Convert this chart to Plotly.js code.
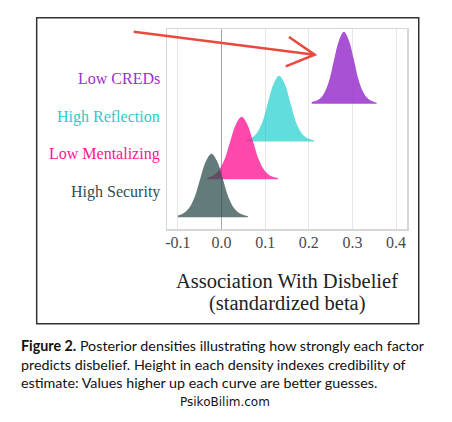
<!DOCTYPE html>
<html>
<head>
<meta charset="utf-8">
<script src="https://cdn.plot.ly/plotly-3.0.1.min.js"></script>
<style>
  html, body { margin: 0; padding: 0; background: #ffffff; }
  #chart { width: 452px; height: 422px; }
</style>
</head>
<body>
<div id="chart"></div>
<script>
// Factor names, bottom ridge first
const factors = ['High Security', 'Low Mentalizing', 'High Reflection', 'Low CREDs'];

// Posterior density of each standardized beta (x = beta, d = density)
const securityX = [-0.100, -0.0873, -0.0744, -0.0616, -0.0487, -0.0359, -0.023, -0.0101, 0.0027, 0.0156, 0.0284, 0.0413, 0.0541, 0.0602];
const securityD = [0.4, 0.97, 2.26, 4.96, 9.47, 13.67, 15.5, 13.67, 9.47, 4.96, 2.26, 0.97, 0.43, 0.3];

const mentalizingX = [-0.0327, -0.019, -0.006, 0.007, 0.020, 0.033, 0.046, 0.059, 0.072, 0.085, 0.098, 0.111, 0.124, 0.1297];
const mentalizingD = [0.4, 0.96, 2.23, 4.9, 9.35, 13.5, 15.3, 13.5, 9.35, 4.9, 2.23, 0.96, 0.43, 0.3];

const reflectionX = [0.0565, 0.070, 0.0824, 0.0948, 0.1072, 0.1196, 0.132, 0.1444, 0.1568, 0.1692, 0.1816, 0.194, 0.2064, 0.2128];
const reflectionD = [0.4, 1.0, 2.35, 5.15, 9.84, 14.2, 16.1, 14.2, 9.84, 5.15, 2.35, 1.0, 0.45, 0.27];

const credsX = [0.2066, 0.2237, 0.2351, 0.2465, 0.2578, 0.2692, 0.2805, 0.2918, 0.3032, 0.3146, 0.3259, 0.3373, 0.3485, 0.3554];
const credsD = [0.4, 1.1, 2.57, 5.6, 10.75, 15.5, 17.6, 15.5, 10.75, 5.6, 2.57, 1.1, 0.49, 0.3];

// x-axis ticks
const tickVals = [-0.1, 0.0, 0.1, 0.2, 0.3, 0.4];
const tickText = ['-0.1', '0.0', '0.1', '0.2', '0.3', '0.4'];

// Ridge styling
const lineColors = ['#2f4f4f', '#ff1493', '#2ccbcb', '#9932cc'];
const fillColors = ['rgba(47,79,79,0.75)', 'rgba(255,20,147,0.78)', 'rgba(0,200,200,0.62)', 'rgba(153,50,204,0.85)'];

const ridges = [
  { x: securityX, d: securityD },
  { x: mentalizingX, d: mentalizingD },
  { x: reflectionX, d: reflectionD },
  { x: credsX, d: credsD }
];

const heightScale = 0.108;   // density -> ridge height (one ridge step = 1)
const labelLift = 0.66;      // label sits above its ridge baseline

const traces = [];
// draw top ridge first so lower ridges overlap it
for (let i = ridges.length - 1; i >= 0; i--) {
  const r = ridges[i];
  const xs = r.x;
  traces.push({
    type: 'scatter', mode: 'lines',
    x: [xs[0], xs[xs.length - 1]], y: [i, i],
    line: { width: 0, color: fillColors[i] },
    hoverinfo: 'skip', showlegend: false
  });
  traces.push({
    type: 'scatter', mode: 'lines',
    x: xs, y: r.d.map(v => i + v * heightScale),
    fill: 'tonexty', fillcolor: fillColors[i],
    line: { width: 0, shape: 'spline', smoothing: 1, color: fillColors[i] },
    name: factors[i], showlegend: false
  });
}

const serif = 'Liberation Serif, Times New Roman, serif';

const annotations = factors.map((f, i) => ({
  xref: 'paper', yref: 'y', x: -0.021, y: i + labelLift,
  xanchor: 'right', yanchor: 'middle', showarrow: false,
  text: f, font: { family: serif, size: 16, color: lineColors[i] }
}));

// axis title, two lines
annotations.push({
  xref: 'paper', yref: 'paper', x: 0.5, y: -0.262,
  xanchor: 'center', yanchor: 'middle', showarrow: false,
  text: 'Association With Disbelief',
  font: { family: serif, size: 20.5, color: '#222222' }
});
annotations.push({
  xref: 'paper', yref: 'paper', x: 0.5, y: -0.3735,
  xanchor: 'center', yanchor: 'middle', showarrow: false,
  text: '(standardized beta)',
  font: { family: serif, size: 20.5, color: '#222222' }
});

annotations.push({
  xref: 'paper', yref: 'paper', x: -0.6167, y: -0.676,
  xanchor: 'left', yanchor: 'middle', align: 'left', showarrow: false,
  text: '<b>Figure 2.</b> Posterior densities illustrating how strongly each factor<br>predicts disbelief. Height in each density indexes credibility of<br>estimate: Values higher up each curve are better guesses.',
  font: { family: 'Lato, Open Sans, sans-serif', size: 14.3, color: '#111111' }
});

annotations.push({
  xref: 'paper', yref: 'paper', x: 0.2417, y: -0.865,
  xanchor: 'center', yanchor: 'middle', showarrow: false,
  text: 'PsikoBilim.com',
  font: { family: 'DejaVu Sans, sans-serif', size: 12, color: '#111111' }
});

const shapes = [
  // figure frame
  { type: 'rect', xref: 'paper', yref: 'paper', x0: -0.543, x1: 1.049, y0: -0.4735, y1: 1.0565,
    line: { color: '#333333', width: 1.5 }, fillcolor: 'rgba(0,0,0,0)', layer: 'below' },
  // pointer arrow
  { type: 'path', xref: 'paper', yref: 'paper',
    path: 'M -0.1388 0.9865 L 0.6154 0.8715 M 0.5083 0.96 L 0.6154 0.8715 L 0.4946 0.813',
    line: { color: '#e94a3d', width: 2.6 } }
];

const layout = {
  width: 452, height: 422,
  margin: { l: 167, r: 45, t: 29, b: 193 },
  paper_bgcolor: '#ffffff', plot_bgcolor: '#ffffff',
  showlegend: false,
  xaxis: {
    range: [-0.125, 0.425],
    tickvals: tickVals, ticktext: tickText,
    ticks: '', ticklabelstandoff: -2,
    showgrid: true, gridcolor: '#e6e6e6', gridwidth: 1,
    zeroline: true, zerolinecolor: '#a3a3a3', zerolinewidth: 1,
    showline: true, mirror: true, linecolor: '#d6d6d6', linewidth: 1.5,
    tickfont: { family: serif, size: 16, color: '#4a4a4a' },
    fixedrange: true
  },
  yaxis: {
    range: [-0.312, 4.975],
    showticklabels: false, ticks: '', showgrid: false, zeroline: false,
    showline: true, mirror: true, linecolor: '#d6d6d6', linewidth: 1.5,
    fixedrange: true
  },
  annotations: annotations,
  shapes: shapes
};

Plotly.newPlot('chart', traces, layout, { staticPlot: true, displayModeBar: false });
</script>
</body>
</html>
